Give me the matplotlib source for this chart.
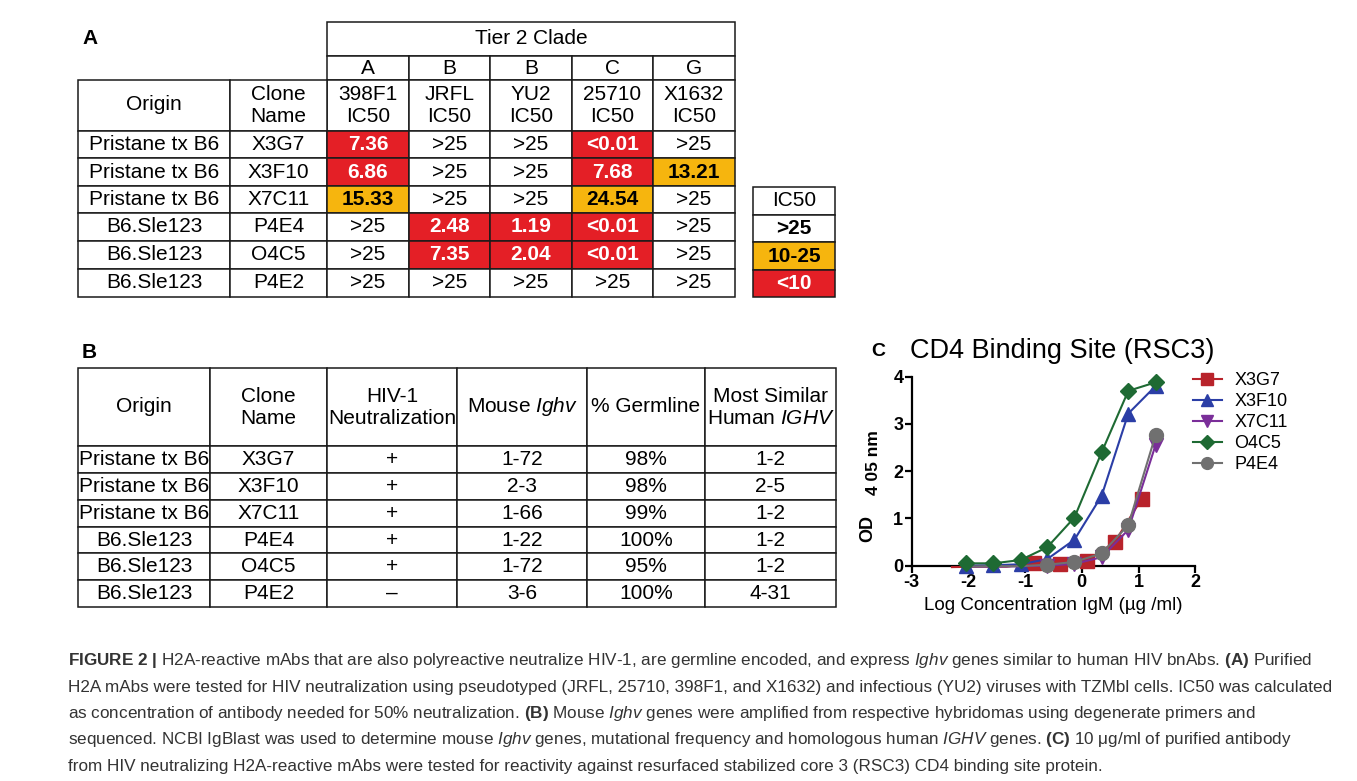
import matplotlib
matplotlib.use('Agg')
import matplotlib.pyplot as plt
from matplotlib.patches import Rectangle
from matplotlib.lines import Line2D

plt.rcParams['font.family'] = 'Liberation Sans'
plt.rcParams['mathtext.fontset'] = 'custom'
plt.rcParams['mathtext.rm'] = 'Liberation Sans'
plt.rcParams['mathtext.it'] = 'Liberation Sans:italic'
plt.rcParams['mathtext.bf'] = 'Liberation Sans:bold'
plt.rcParams['axes.unicode_minus'] = False

# ---- Table A data ----
clade_letters = ['A', 'B', 'B', 'C', 'G']
virus_names = ['398F1', 'JRFL', 'YU2', '25710', 'X1632']
origins = ['Pristane tx B6', 'Pristane tx B6', 'Pristane tx B6',
           'B6.Sle123', 'B6.Sle123', 'B6.Sle123']
clones = ['X3G7', 'X3F10', 'X7C11', 'P4E4', 'O4C5', 'P4E2']
ic50 = [
    ['7.36', '>25', '>25', '<0.01', '>25'],
    ['6.86', '>25', '>25', '7.68', '13.21'],
    ['15.33', '>25', '>25', '24.54', '>25'],
    ['>25', '2.48', '1.19', '<0.01', '>25'],
    ['>25', '7.35', '2.04', '<0.01', '>25'],
    ['>25', '>25', '>25', '>25', '>25'],
]
ic50_key = ['>25', '10-25', '<10']

# ---- Table B data ----
headers_b = ['Origin', 'Clone\nName', 'HIV-1\nNeutralization', r'Mouse $\mathit{Ighv}$',
             '% Germline', 'Most Similar\n' + r'Human $\mathit{IGHV}$']
neutralization = ['+', '+', '+', '+', '+', '\u2013']
mouse_ighv = ['1-72', '2-3', '1-66', '1-22', '1-72', '3-6']
germline = ['98%', '98%', '99%', '100%', '95%', '100%']
human_ighv = ['1-2', '2-5', '1-2', '1-2', '1-2', '4-31']

# ---- Panel C data (log10 ug/ml vs OD405) ----
log_conc = [-2.04, -1.56, -1.08, -0.61, -0.13, 0.35, 0.82, 1.30]
log_conc_x3g7 = [-2.29, -1.81, -1.33, -0.85, -0.38, 0.10, 0.58, 1.06]
od_x3g7 = [-0.03, -0.02, -0.02, 0.05, 0.04, 0.11, 0.50, 1.42]
od_x3f10 = [0.00, 0.01, 0.03, 0.14, 0.55, 1.48, 3.22, 3.80]
od_x7c11 = [-0.02, -0.02, -0.01, 0.00, 0.04, 0.18, 0.76, 2.55]
od_o4c5 = [0.05, 0.05, 0.12, 0.39, 1.02, 2.40, 3.70, 3.88]
od_p4e4 = [-0.02, -0.01, -0.01, 0.02, 0.08, 0.26, 0.86, 2.76]

RED = '#e41f26'
ORANGE = '#f6b50e'
EDGE = '#1a1a1a'

W, H = 1357, 781
fig = plt.figure(figsize=(W / 100, H / 100), dpi=100)
bg = fig.add_axes([0, 0, 1, 1])
bg.set_xlim(0, W)
bg.set_ylim(H, 0)
bg.axis('off')

FS = 15


def cell(x0, y0, x1, y1, fc='white'):
    bg.add_patch(Rectangle((x0, y0), x1 - x0, y1 - y0, facecolor=fc,
                           edgecolor=EDGE, linewidth=1.1))


def ic50_color(s):
    if s.startswith('>'):
        return 'white'
    v = float(s.strip('<'))
    return RED if v < 10 else ORANGE


# ---------------- Table A ----------------
bg.text(82, 38, 'A', fontsize=15, fontweight='bold', ha='left', va='center')
xa = [78, 230, 327, 409, 490, 572, 653, 735]
ya = [131, 158, 186, 213, 241, 269, 297]
cell(xa[2], 22, xa[-1], 56)
bg.text((xa[2] + xa[-1]) / 2, 39, 'Tier 2 Clade', fontsize=FS, ha='center', va='center')
for j, (let, vn) in enumerate(zip(clade_letters, virus_names)):
    x0, x1 = xa[j + 2], xa[j + 3]
    cell(x0, 56, x1, 80)
    bg.text((x0 + x1) / 2, 68, let, fontsize=FS, ha='center', va='center')
    cell(x0, 80, x1, ya[0])
    bg.text((x0 + x1) / 2, 105, vn + '\nIC50', fontsize=FS, ha='center', va='center',
            linespacing=1.2)
cell(xa[0], 80, xa[1], ya[0])
bg.text((xa[0] + xa[1]) / 2, 105, 'Origin', fontsize=FS, ha='center', va='center')
cell(xa[1], 80, xa[2], ya[0])
bg.text((xa[1] + xa[2]) / 2, 105, 'Clone\nName', fontsize=FS, ha='center', va='center',
        linespacing=1.2)
for i in range(len(clones)):
    y0, y1 = ya[i], ya[i + 1]
    yc = (y0 + y1) / 2
    cell(xa[0], y0, xa[1], y1)
    bg.text((xa[0] + xa[1]) / 2, yc, origins[i], fontsize=FS, ha='center', va='center')
    cell(xa[1], y0, xa[2], y1)
    bg.text((xa[1] + xa[2]) / 2, yc, clones[i], fontsize=FS, ha='center', va='center')
    for j, val in enumerate(ic50[i]):
        x0, x1 = xa[j + 2], xa[j + 3]
        fc = ic50_color(val)
        cell(x0, y0, x1, y1, fc)
        if fc == 'white':
            bg.text((x0 + x1) / 2, yc, val, fontsize=FS, ha='center', va='center')
        else:
            bg.text((x0 + x1) / 2, yc, val, fontsize=FS, ha='center', va='center',
                    fontweight='bold', color='white' if fc == RED else 'black')

# IC50 key
yk = [187, 215, 242, 270, 297]
cell(753, yk[0], 835, yk[1])
bg.text(794, (yk[0] + yk[1]) / 2, 'IC50', fontsize=FS, ha='center', va='center')
for k, lab in enumerate(ic50_key):
    fc = ['white', ORANGE, RED][k]
    cell(753, yk[k + 1], 835, yk[k + 2], fc)
    bg.text(794, (yk[k + 1] + yk[k + 2]) / 2, lab, fontsize=FS, ha='center', va='center',
            fontweight='bold', color='white' if fc == RED else 'black')

# ---------------- Table B ----------------
bg.text(82, 353, 'B', fontsize=15, fontweight='bold', ha='left', va='center')
xb = [78, 210, 327, 457, 587, 705, 836]
yb = [368, 446, 473, 500, 527, 553, 580, 607]
for j, hd in enumerate(headers_b):
    cell(xb[j], yb[0], xb[j + 1], yb[1])
    bg.text((xb[j] + xb[j + 1]) / 2, (yb[0] + yb[1]) / 2, hd, fontsize=FS,
            ha='center', va='center', linespacing=1.2)
cols_b = [origins, clones, neutralization, mouse_ighv, germline, human_ighv]
for i in range(len(clones)):
    for j, col in enumerate(cols_b):
        cell(xb[j], yb[i + 1], xb[j + 1], yb[i + 2])
        bg.text((xb[j] + xb[j + 1]) / 2, (yb[i + 1] + yb[i + 2]) / 2, col[i],
                fontsize=FS, ha='center', va='center')

# ---------------- Panel C ----------------
px0, px1, py0, py1 = 911.7, 1195.2, 565.7, 376.7
ax = fig.add_axes([px0 / W, (H - py0) / H, (px1 - px0) / W, (py0 - py1) / H])
ax.set_xlim(-3, 2)
ax.set_ylim(0, 4)
ax.patch.set_alpha(0)
for s in ['top', 'right']:
    ax.spines[s].set_visible(False)
for s in ['left', 'bottom']:
    ax.spines[s].set_linewidth(1.6)
ax.set_xticks([-3, -2, -1, 0, 1, 2])
ax.set_yticks([0, 1, 2, 3, 4])
ax.tick_params(width=1.6, length=5, labelsize=13, pad=1)
for lab in ax.get_xticklabels() + ax.get_yticklabels():
    lab.set_fontweight('bold')

series = [
    ('X3G7', log_conc_x3g7, od_x3g7, '#b8232b', 's', 10, 3),
    ('X3F10', log_conc, od_x3f10, '#2b3ea6', '^', 10, 3),
    ('X7C11', log_conc, od_x7c11, '#7a2e99', 'v', 10, 3),
    ('O4C5', log_conc, od_o4c5, '#1e6a33', 'D', 8, 5),
    ('P4E4', log_conc, od_p4e4, '#707070', 'o', 10, 4),
]
handles = []
for name, xs, ys, col, mk, ms, z in series:
    shown = [i for i, v in enumerate(ys) if v >= 0]
    ax.plot(xs, ys, color=col, marker=mk, markersize=ms, linewidth=1.5,
            markevery=shown, clip_on=False, zorder=z)
    handles.append(Line2D([], [], color=col, marker=mk, markersize=ms * 0.85,
                          linewidth=1.5, label=name))
fig.legend(handles=handles, loc='upper left', bbox_to_anchor=(1193 / W, 1 - 372 / H),
           frameon=False, fontsize=13, handlelength=1.6, handletextpad=0.7,
           labelspacing=0.22, borderpad=0, borderaxespad=0)

bg.text(878, 352, 'C', fontsize=14, fontweight='bold', ha='center', va='center')
bg.text(1062, 351, 'CD4 Binding Site (RSC3)', fontsize=19.5, ha='center', va='center')
bg.text(1053, 605, 'Log Concentration IgM (\u00b5g /ml)', fontsize=13.5,
        ha='center', va='center')
bg.text(868, 529, 'OD', fontsize=13, fontweight='bold', rotation=90,
        ha='center', va='center')
bg.text(874, 463, '4 05 nm', fontsize=12.5, fontweight='bold', rotation=90,
        ha='center', va='center')

# ---------------- Caption ----------------
caption_lines = [
    r'$\mathbf{FIGURE\ 2\ |}$ H2A-reactive mAbs that are also polyreactive neutralize HIV-1, '
    r'are germline encoded, and express $\mathit{Ighv}$ genes similar to human HIV bnAbs. '
    r'$\mathbf{(A)}$ Purified',
    'H2A mAbs were tested for HIV neutralization using pseudotyped (JRFL, 25710, 398F1, '
    'and X1632) and infectious (YU2) viruses with TZMbl cells. IC50 was calculated',
    r'as concentration of antibody needed for 50% neutralization. $\mathbf{(B)}$ Mouse '
    r'$\mathit{Ighv}$ genes were amplified from respective hybridomas using degenerate primers and',
    r'sequenced. NCBI IgBlast was used to determine mouse $\mathit{Ighv}$ genes, mutational '
    r'frequency and homologous human $\mathit{IGHV}$ genes. $\mathbf{(C)}$ 10 $\mathrm{\mu}$g/ml '
    r'of purified antibody',
    'from HIV neutralizing H2A-reactive mAbs were tested for reactivity against resurfaced '
    'stabilized core 3 (RSC3) CD4 binding site protein.',
]
for k, line in enumerate(caption_lines):
    bg.text(68, 661 + 26.3 * k, line, fontsize=12.3, color='#333333',
            ha='left', va='center')

fig.savefig('out.png', dpi=100)
